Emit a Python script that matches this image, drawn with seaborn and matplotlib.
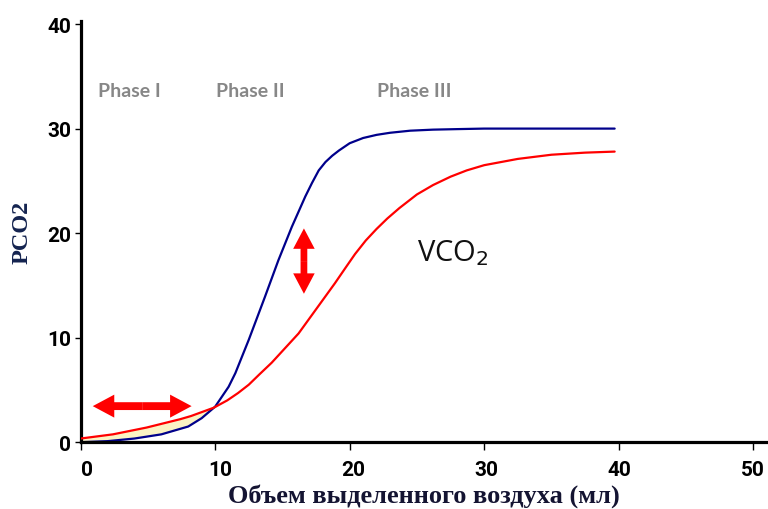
import matplotlib
matplotlib.use("Agg")
import matplotlib.pyplot as plt
import matplotlib.transforms as mtransforms
import numpy as np
import pandas as pd
import seaborn as sns

# Exhaled CO2 curves: volume (ml) vs PCO2
vol_fast = [0, 2, 4, 6, 8, 9, 10, 11, 11.5, 12.5, 13.7, 14.7, 15.7, 16.7,
            17.2, 17.7, 18.2, 18.7, 19.2, 20.0, 21.0, 22.0, 23.0, 24.5, 26.2,
            28, 30, 35, 39.7]
pco2_fast = [0.0, 0.1, 0.35, 0.75, 1.5, 2.3, 3.4, 5.3, 6.6, 9.8, 13.9, 17.4,
             20.6, 23.5, 24.8, 26.0, 26.8, 27.4, 27.9, 28.6, 29.1, 29.4, 29.6,
             29.8, 29.9, 29.95, 30.0, 30.0, 30.0]

vol_slow = [0, 2.4, 4.9, 7.4, 8.2, 9.9, 10.9, 11.7, 12.5, 13.3, 14.2, 15.2,
            16.2, 17.1, 18.0, 18.9, 19.7, 20.4, 21.2, 22.0, 22.8, 23.7, 25.0,
            26.2, 27.5, 28.7, 30.0, 32.5, 35.0, 37.5, 39.7]
pco2_slow = [0.35, 0.75, 1.4, 2.2, 2.5, 3.3, 4.0, 4.7, 5.5, 6.5, 7.6, 9.0,
             10.4, 12.0, 13.6, 15.2, 16.7, 18.0, 19.3, 20.4, 21.4, 22.4, 23.7,
             24.6, 25.4, 26.0, 26.5, 27.1, 27.5, 27.7, 27.8]

phase_labels = ["Phase I", "Phase II", "Phase III"]
phase_x = [3.6, 12.6, 24.8]
phase_y = 33.6

x_ticks = [0, 10, 20, 30, 40, 50]
y_ticks = [0, 10, 20, 30, 40]

sns.set_theme(style="white")
plt.rcParams["font.family"] = ["DejaVu Sans"]

fig = plt.figure(figsize=(7.68, 5.10), dpi=100)
ax = fig.add_axes([0.105, 0.131, 0.895, 0.826])

df_fast = pd.DataFrame({"vol": vol_fast, "pco2": pco2_fast})
df_slow = pd.DataFrame({"vol": vol_slow, "pco2": pco2_slow})

# pale band between the two curves in the early part of the breath
grid = np.linspace(0, 10, 80)
fa = np.interp(grid, vol_fast, pco2_fast)
sl = np.interp(grid, vol_slow, pco2_slow)
ax.fill_between(grid, fa, sl, where=sl >= fa, color="#fbf3c4", lw=0, zorder=1)

sns.lineplot(data=df_slow, x="vol", y="pco2", color="#ff0000", lw=1.6,
             ax=ax, zorder=3)
sns.lineplot(data=df_fast, x="vol", y="pco2", color="#00008b", lw=1.6,
             ax=ax, zorder=2)


def double_arrow(x0, y0, x1, y1, width, head_width, head_length):
    """Two arrows pointing outward from the midpoint."""
    xm, ym = (x0 + x1) / 2, (y0 + y1) / 2
    for xe, ye in [(x0, y0), (x1, y1)]:
        ax.arrow(xm, ym, xe - xm, ye - ym, width=width, head_width=head_width,
                 head_length=head_length, length_includes_head=True,
                 color="#ff0000", lw=0, zorder=5)


# horizontal arrow: widths in PCO2 units, head length in ml
double_arrow(0.9, 3.45, 8.25, 3.45, width=0.75, head_width=2.2,
             head_length=1.6)
# vertical arrow: widths in ml, head length in PCO2 units
double_arrow(16.6, 14.2, 16.6, 20.45, width=0.5, head_width=1.6,
             head_length=1.95)

for lab, px in zip(phase_labels, phase_x):
    ax.text(px, phase_y, lab, ha="center", va="center", color="#878787",
            fontsize=14, fontweight="bold", family="Lato")

ax.text(25.0, 18.2, "VCO$_2$", ha="left", va="center", color="#111111",
        fontsize=21, family="Open Sans")

ax.set_xlim(0, 51.1)
ax.set_ylim(0, 40.3)
ax.set_xticks(x_ticks)
ax.set_yticks(y_ticks)
ax.set_xticklabels([str(v) for v in x_ticks], fontsize=15, fontweight="bold",
                   family="Roboto")
ax.set_yticklabels([str(v) for v in y_ticks], fontsize=15, fontweight="bold",
                   family="Roboto")

ax.tick_params(axis="x", direction="out", length=6, width=1, pad=7,
               colors="black", bottom=True)
ax.tick_params(axis="y", direction="out", length=4, width=1, pad=3,
               colors="black", left=True)

# nudge the x tick labels slightly right, less so towards the right edge
n = len(x_ticks)
for i, lab in enumerate(ax.get_xticklabels()):
    dx = 6 * (1 - i / (n - 1)) / 100
    shift = mtransforms.ScaledTranslation(dx, 0, fig.dpi_scale_trans)
    lab.set_transform(lab.get_transform() + shift)

for side in ["top", "right"]:
    ax.spines[side].set_visible(False)
for side in ["left", "bottom"]:
    ax.spines[side].set_color("black")
    ax.spines[side].set_linewidth(2.3)

ax.set_xlabel("Объем выделенного воздуха (мл)", fontsize=19,
              fontweight="bold", family="Liberation Serif", color="#141432",
              labelpad=3)
ax.set_ylabel("PCO2", fontsize=17.5, fontweight="bold",
              family="Liberation Serif", color="#14234f", labelpad=10)

fig.savefig("out.png", dpi=100)
